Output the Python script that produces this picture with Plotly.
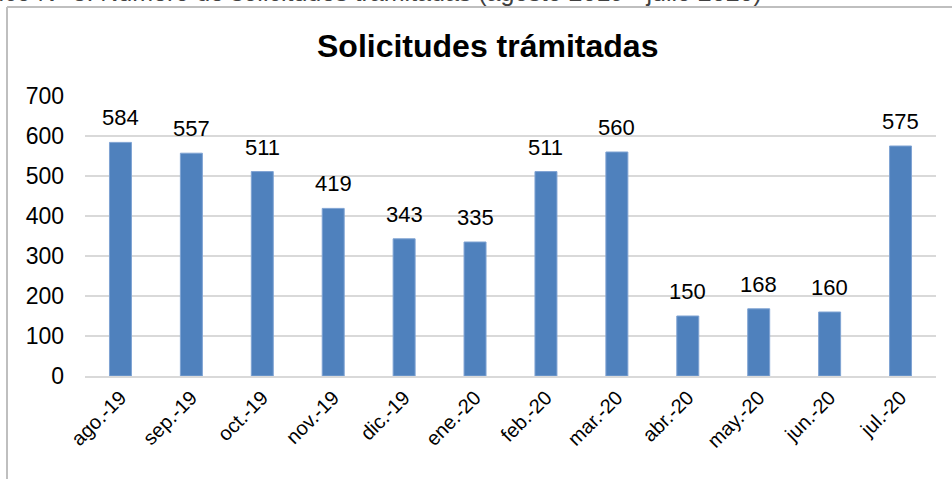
import plotly.graph_objects as go

categories = ["ago.-19", "sep.-19", "oct.-19", "nov.-19", "dic.-19", "ene.-20",
              "feb.-20", "mar.-20", "abr.-20", "may.-20", "jun.-20", "jul.-20"]
values = [584, 557, 511, 419, 343, 335, 511, 560, 150, 168, 160, 575]
y_ticks = [0, 100, 200, 300, 400, 500, 600, 700]

W, H = 952, 479
ML, MR, MT, MB = 85, 16, 96, 103
PW, PH = W - ML - MR, H - MT - MB

def px_x(p):
    return (p - ML) / PW

def px_y(p):
    return 1 + (MT - p) / PH

fig = go.Figure()
fig.add_trace(go.Bar(
    x=categories, y=values,
    marker=dict(color="#4F81BD", line=dict(color="#7FA3D3", width=1)),
    width=0.31, hoverinfo="x+y",
))

label_annotations = [
    dict(x=c, y=v, xref="x", yref="y", text=str(v), showarrow=False,
         yanchor="bottom", yshift=10, font=dict(size=22, color="#000000"))
    for c, v in zip(categories, values)
]

fig.update_layout(
    width=W, height=H,
    margin=dict(l=ML, r=MR, t=MT, b=MB, autoexpand=False),
    paper_bgcolor="white", plot_bgcolor="white",
    showlegend=False,
    font=dict(family="Arial, Liberation Sans", color="#000000"),
    xaxis=dict(tickangle=-45, tickfont=dict(size=20, color="#000000"),
               showgrid=False, showline=True, linecolor="#D9D9D9", linewidth=2,
               ticks="", automargin=False),
    yaxis=dict(range=[0, 700], tickvals=y_ticks, tickfont=dict(size=23, color="#000000"),
               showgrid=True, gridcolor="#D9D9D9", gridwidth=2, zeroline=False,
               showline=False, ticks="", ticklabelstandoff=20, automargin=False),
    shapes=[
        dict(type="line", xref="paper", yref="paper", x0=px_x(7), x1=px_x(960),
             y0=px_y(7), y1=px_y(7), line=dict(color="#BFBFBF", width=2)),
        dict(type="line", xref="paper", yref="paper", x0=px_x(7), x1=px_x(7),
             y0=px_y(7), y1=px_y(490), line=dict(color="#BFBFBF", width=2)),
    ],
    annotations=label_annotations + [
        dict(text="<b>Solicitudes trámitadas</b>", xref="paper", yref="paper",
             x=px_x(487), y=px_y(46), xanchor="center", yanchor="middle",
             showarrow=False, font=dict(size=32, color="#000000")),
        dict(text="Gráfico N° 3: Número de solicitudes tramitadas (agosto 2019 - julio 2020)",
             xref="paper", yref="paper", x=px_x(764), y=px_y(-8),
             xanchor="right", yanchor="middle", showarrow=False,
             font=dict(size=25, color="#404040")),
    ],
)

fig.write_html("out.html", config={"displayModeBar": False},
               post_script="document.body.style.margin='0';")
